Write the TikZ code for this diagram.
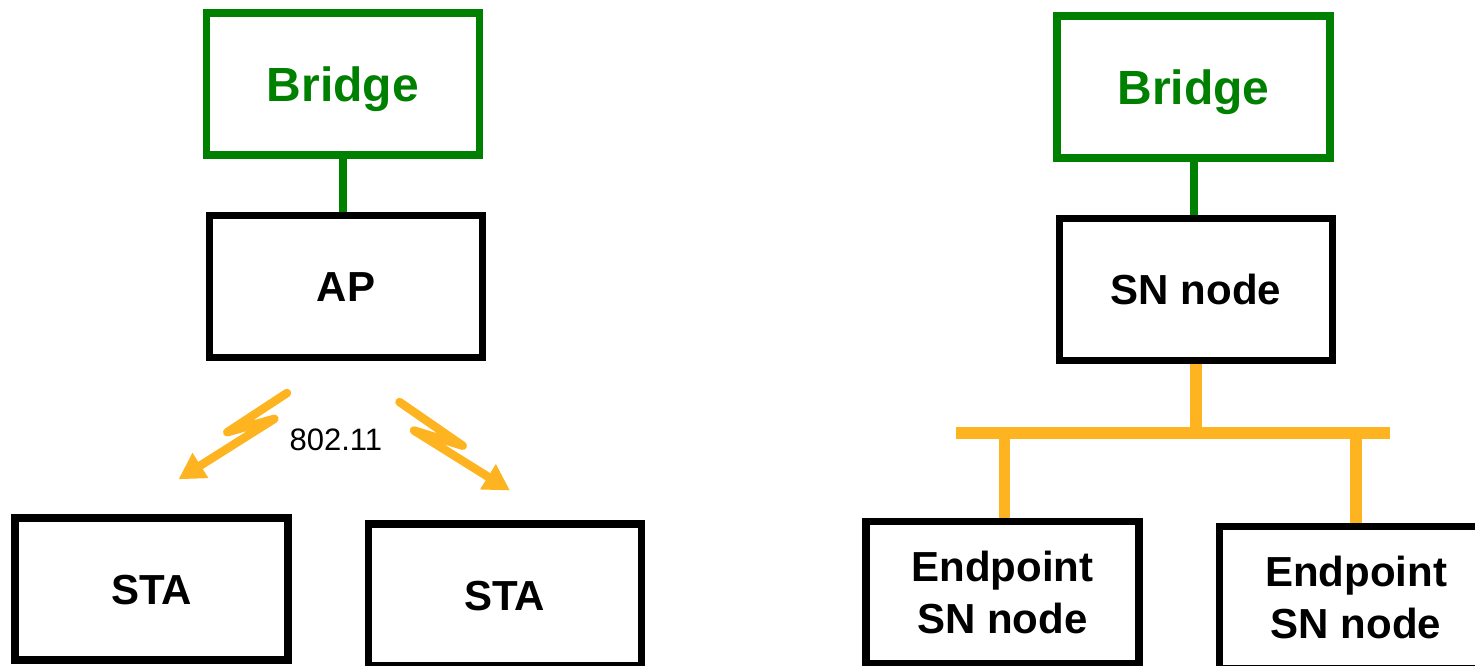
\documentclass[tikz,border=0pt]{standalone}
\usepackage{fontspec}
\setmainfont{Liberation Sans}
\usetikzlibrary{arrows.meta}
\definecolor{brgreen}{RGB}{0,128,0}
\definecolor{linkorange}{RGB}{254,180,32}
\tikzset{
  devbox/.style={draw=black, line width=7.5pt, minimum width=273pt, minimum height=142pt,
    inner sep=0pt, align=center, font=\bfseries\fontsize{42}{52}\selectfont,
    text height=30pt, text depth=0pt},
  epbox/.style={devbox, text height=82pt, text depth=0pt},
  bridgebox/.style={devbox, draw=brgreen, text=brgreen,
    font=\bfseries\fontsize{48}{56}\selectfont, text height=34pt},
  greenlink/.style={draw=brgreen, line width=8pt},
  buslink/.style={draw=linkorange, line width=11.5pt},
  radiolink/.style={draw=linkorange, line width=8.5pt, line cap=round, line join=round,
    -{Triangle[length=26pt,width=28pt]}},
  stdlabel/.style={font=\fontsize{31}{36}\selectfont, inner sep=0pt, anchor=base}
}
\begin{document}
\begin{tikzpicture}[x=1pt,y=-1pt]
\useasboundingbox (0,0) rectangle (1475,665);
\clip (0,0) rectangle (1475,665);
% left side
\node[bridgebox] (bl) at (343,84) {Bridge};
\node[devbox] (ap) at (346,286.7) {AP};
\node[devbox] (staL) at (151.6,589) {STA};
\node[devbox] (staR) at (504.8,595) {STA};
\draw[greenlink] (bl.south) -- (bl.south |- ap.north);
% radio links
\coordinate (rl0) at (287,393);
\coordinate (rl1) at (227.3,432.2);
\coordinate (rl2) at (274.4,418.8);
\coordinate (rl3) at (178.5,479.3);
\coordinate (rr0) at (399.5,402);
\coordinate (rr1) at (462.7,445.7);
\coordinate (rr2) at (414,430.5);
\coordinate (rr3) at (510,490.5);
\draw[radiolink] (rl0) -- (rl1) -- (rl2) -- (rl3);
\draw[radiolink] (rr0) -- (rr1) -- (rr2) -- (rr3);
\node[stdlabel] (wifi) at (335.8,450.7) {802.11};
% right side
\node[bridgebox] (br) at (1193.6,87.1) {Bridge};
\node[devbox] (sn) at (1196,289.7) {SN node};
\node[epbox] (ep1) at (1002.5,592.3) {Endpoint\\SN node};
\node[epbox] (ep2) at (1356,597.7) {Endpoint\\SN node};
\draw[greenlink] (br.south) -- (br.south |- sn.north);
\coordinate (busL) at (955.6,433);
\coordinate (busR) at (1390,433);
\coordinate (busM) at (1196,433);
\coordinate (drop1) at (1004.6,433);
\coordinate (drop2) at (1356,433);
\draw[buslink] (busL) -- (busR);
\draw[buslink] (sn.south) -- (busM);
\draw[buslink] (drop1) -- (drop1 |- ep1.north);
\draw[buslink] (drop2) -- (drop2 |- ep2.north);
\end{tikzpicture}
\end{document}
